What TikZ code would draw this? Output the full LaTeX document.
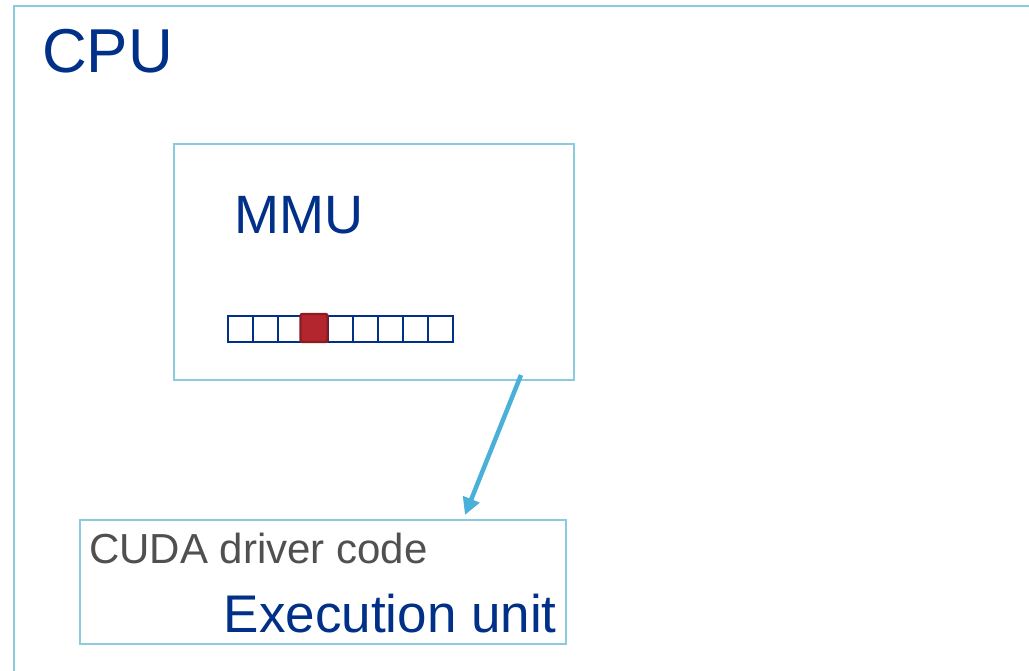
\documentclass[tikz,border=0pt]{standalone}
\usepackage{fontspec}
\setmainfont{Liberation Sans}
\usetikzlibrary{arrows.meta}
\definecolor{boxline}{HTML}{8ACBE0}
\definecolor{darkblue}{HTML}{003087}
\definecolor{txtgray}{HTML}{505050}
\definecolor{arrowblue}{HTML}{4BB0D8}
\definecolor{cellred}{HTML}{B3262E}
\definecolor{cellredd}{HTML}{8A1C22}
\tikzset{
  boxstyle/.style={draw=boxline, line width=2pt, fill=white, inner sep=0pt, anchor=north west},
  shadowstyle/.style={fill=black, opacity=0.06, draw=none},
  cellstyle/.style={draw=darkblue, line width=1.8pt, fill=white, minimum width=25pt, minimum height=26pt, inner sep=0pt},
  redcell/.style={draw=cellredd, line width=2.4pt, fill=cellred, rounded corners=2pt, minimum width=27pt, minimum height=28pt, inner sep=0pt},
}
\begin{document}
\begin{tikzpicture}[x=1pt,y=-1pt]
\useasboundingbox (0,0) rectangle (1029,670);
\clip (0,0) rectangle (1029,670);
% shadows
\fill[shadowstyle] (14,8) rectangle (1045,685);
\fill[shadowstyle] (175,146) rectangle (576,384);
\fill[shadowstyle] (81,522) rectangle (568,648);
\node[boxstyle, minimum width=1040pt, minimum height=680pt] (cpu) at (13,5) {};
\node[anchor=base west, inner sep=0pt, text=darkblue, font=\fontsize{62}{70}\selectfont] (cputxt) at (42,72) {CPU};
\node[boxstyle, minimum width=400pt, minimum height=236pt] (mmu) at (173,143) {};
\node[anchor=base west, inner sep=0pt, text=darkblue, font=\fontsize{54}{62}\selectfont] (mmutxt) at (234,233) {MMU};
\foreach \i in {0,1,2,4,5,6,7,8} {
  \node[cellstyle, anchor=north west] (c\i) at (227+25*\i,315) {};
}
\node[redcell] (c3) at (314,328) {};
\node[boxstyle, minimum width=486pt, minimum height=124pt] (exec) at (79,519) {};
\node[anchor=base west, inner sep=0pt, text=txtgray, font=\fontsize{42}{50}\selectfont] (cuda) at (89,563) {CUDA driver code};
\node[anchor=base east, inner sep=0pt, text=darkblue, font=\fontsize{53}{60}\selectfont] (eu) at (557,632) {Execution unit};
\coordinate (astart) at (521,375);
\coordinate (aend) at (465,515);
\draw[arrowblue, line width=4.5pt, -{Triangle[length=17pt,width=17pt]}] (astart) -- (aend);
\end{tikzpicture}
\end{document}
